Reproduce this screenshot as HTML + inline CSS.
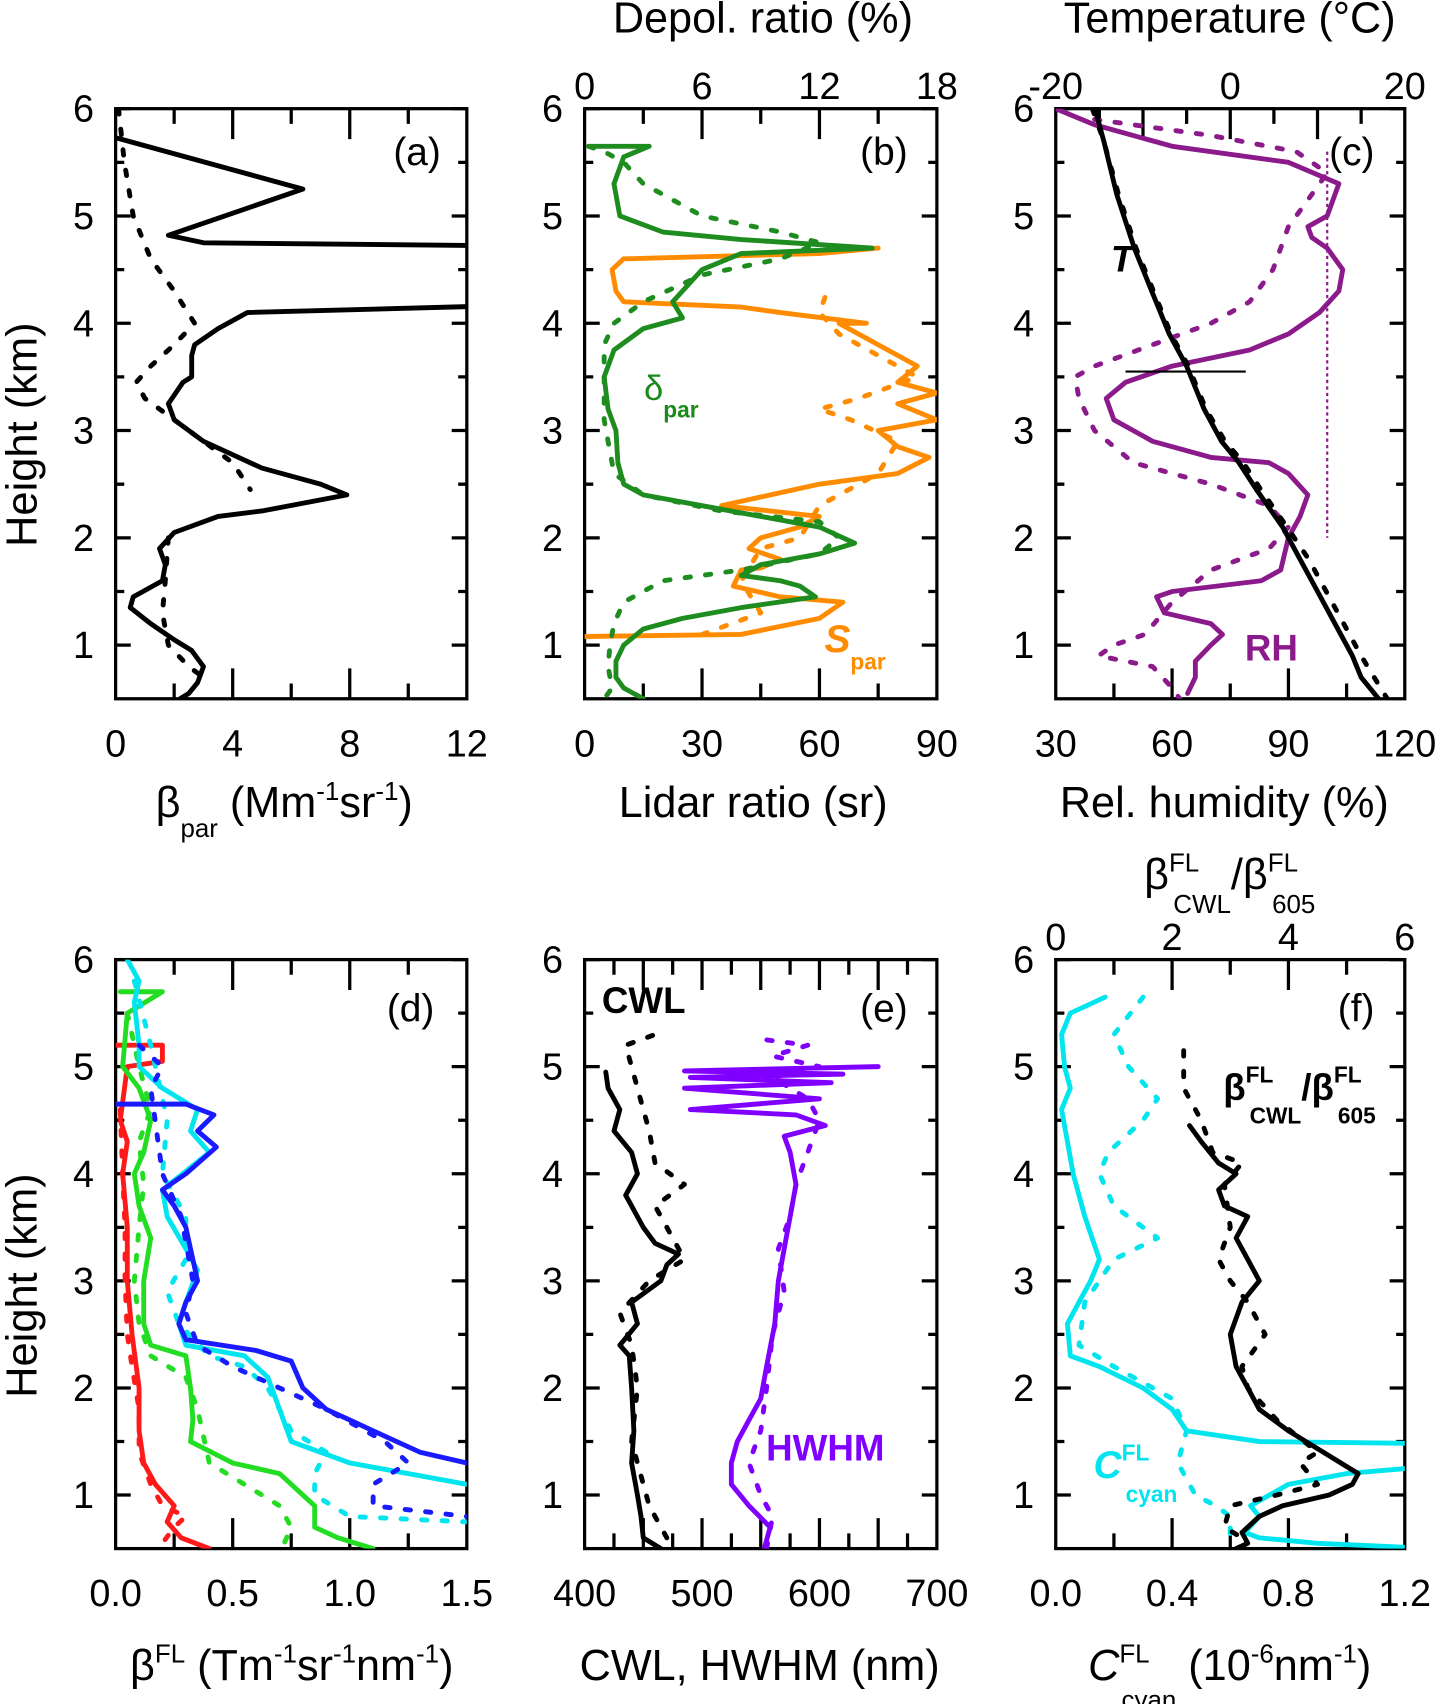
<!DOCTYPE html>
<html><head><meta charset="utf-8"><style>
html,body{margin:0;padding:0;background:#fff;}
svg{display:block;}
text{font-family:"Liberation Sans",Arial,sans-serif;fill:#000;}
</style></head><body>
<svg id="fig" width="1448" height="1704" viewBox="0 0 1340 1568" preserveAspectRatio="none" xmlns="http://www.w3.org/2000/svg">
<defs></defs>
<g id="axes"></g>
<g id="series"></g>
<g id="labels">
<text x="408" y="152" font-size="36" text-anchor="end">(a)</text>
<text x="840" y="152" font-size="36" text-anchor="end">(b)</text>
<text x="1272" y="152" font-size="36" text-anchor="end">(c)</text>
<text x="402" y="940" font-size="36" text-anchor="end">(d)</text>
<text x="840" y="940" font-size="36" text-anchor="end">(e)</text>
<text x="1272" y="940" font-size="36" text-anchor="end">(f)</text>

<text x="263" y="752" font-size="40" text-anchor="middle">β<tspan font-size="24" dy="18">par</tspan><tspan dy="-18"> (Mm</tspan><tspan font-size="24" dy="-16">-1</tspan><tspan dy="16">sr</tspan><tspan font-size="24" dy="-16">-1</tspan><tspan dy="16">)</tspan></text>
<text x="697" y="752" font-size="40" text-anchor="middle">Lidar ratio (sr)</text>
<text x="706" y="30" font-size="40" text-anchor="middle">Depol. ratio (%)</text>
<text x="1133" y="752" font-size="40" text-anchor="middle">Rel. humidity (%)</text>
<text x="1138" y="30" font-size="40" text-anchor="middle">Temperature (°C)</text>
<text x="270" y="1546" font-size="40" text-anchor="middle">β<tspan font-size="24" dy="-16">FL</tspan><tspan dy="16"> (Tm</tspan><tspan font-size="24" dy="-16">-1</tspan><tspan dy="16">sr</tspan><tspan font-size="24" dy="-16">-1</tspan><tspan dy="16">nm</tspan><tspan font-size="24" dy="-16">-1</tspan><tspan dy="16">)</tspan></text>
<text x="703" y="1546" font-size="40" text-anchor="middle">CWL, HWHM (nm)</text>
<text x="1138" y="1546" font-size="40" text-anchor="middle"><tspan font-style="italic">C</tspan><tspan font-size="24" dy="-16">FL</tspan><tspan font-size="24" dx="-26" dy="42">cyan</tspan><tspan dy="-26"> (10</tspan><tspan font-size="24" dy="-16">-6</tspan><tspan dy="16">nm</tspan><tspan font-size="24" dy="-16">-1</tspan><tspan dy="16">)</tspan></text>
<text x="1138" y="818" font-size="40" text-anchor="middle">β<tspan font-size="24" dy="-16">FL</tspan><tspan font-size="24" dx="-24" dy="38">CWL</tspan><tspan dy="-22">/β</tspan><tspan font-size="24" dy="-16">FL</tspan><tspan font-size="24" dx="-24" dy="38">605</tspan></text>
<text transform="translate(34,400) rotate(-90)" font-size="40" text-anchor="middle">Height (km)</text>
<text transform="translate(34,1183) rotate(-90)" font-size="40" text-anchor="middle">Height (km)</text>

<text x="596" y="368" font-size="32" style="fill:#1a8a1a">δ<tspan font-size="21" font-weight="bold" dy="16">par</tspan></text>
<text x="763" y="600" font-size="36" font-weight="bold" font-style="italic" style="fill:#ff8c00">S<tspan font-size="21" font-style="normal" dy="16">par</tspan></text>
<text x="1028" y="250" font-size="34" font-weight="bold" font-style="italic">T</text>
<text x="1152" y="608" font-size="34" font-weight="bold" style="fill:#8b1a8b">RH</text>
<text x="557" y="932" font-size="34" font-weight="bold">CWL</text>
<text x="709" y="1344" font-size="34" font-weight="bold" style="fill:#8000ff">HWHM</text>
<text x="1132" y="1012" font-size="34" font-weight="bold">β<tspan font-size="21" dy="-16">FL</tspan><tspan font-size="21" dx="-22" dy="38">CWL</tspan><tspan dy="-22">/β</tspan><tspan font-size="21" dy="-16">FL</tspan><tspan font-size="21" dx="-22" dy="38">605</tspan></text>
<text x="1012" y="1360" font-size="36" font-weight="bold" font-style="italic" style="fill:#00e5ee">C<tspan font-size="21" font-style="normal" dy="-16">FL</tspan><tspan font-size="21" font-style="normal" dx="-22" dy="38">cyan</tspan></text>
</g>
</svg>
<script>
// ---------- data (value arrays, heights in km) ----------
const aSolidX=[0,6.4,1.8,3,14,14,4.5,3.5,2.7,2.6,2.6,2.3,1.8,2,3,5,7,7.9,5,3.5,2,1.5,1.7,1.6,0.6,0.5,1.2,2,2.6,3,2.8,2.5,2.2];
const aSolidH=[5.73,5.25,4.82,4.75,4.72,4.17,4.1,3.95,3.8,3.7,3.5,3.45,3.25,3.1,2.9,2.65,2.5,2.4,2.25,2.2,2.05,1.9,1.75,1.6,1.45,1.35,1.2,1.05,0.95,0.8,0.65,0.55,0.5];
const aDashX=[0.1,0.3,0.6,1.2,2,2.7,2,1.2,0.7,1,2,3,4,4.6];
const aDashH=[6,5.5,5,4.6,4.3,4.0,3.8,3.6,3.45,3.3,3.1,2.9,2.7,2.45];
const aDash2X=[1.8,1.7,1.6,1.8,2.5,3];
const aDash2H=[2.0,1.6,1.3,1.0,0.8,0.7];

const bDeltaX=[0.2,3.3,2,1.5,1.8,4,8,14.7,8,6,5,4.5,5,3,1.5,1,1.2,1.6,1.7,2,3,6,9,12,13.8,12,9,8,10,11,11.8,8,5,3,2,1.6,1.6,2,3];
const bDeltaH=[5.65,5.65,5.55,5.3,5.0,4.85,4.78,4.7,4.65,4.5,4.3,4.2,4.05,3.95,3.75,3.5,3.2,3,2.7,2.5,2.4,2.3,2.2,2.1,1.95,1.85,1.75,1.65,1.6,1.55,1.45,1.35,1.25,1.15,1.0,0.85,0.7,0.6,0.5];
const bDeltaDX=[0.2,1,2,3,6,10,12,10,6,3,1.5,1,1,1,1.2,1.5,3,7,12,13,12,8,4,2,1.5,1.3,1.2,1.4,1];
const bDeltaDH=[5.65,5.6,5.5,5.3,5.0,4.85,4.75,4.6,4.45,4.2,4.0,3.8,3.5,3.1,2.9,2.6,2.4,2.25,2.15,2.0,1.85,1.7,1.6,1.4,1.2,1.0,0.8,0.6,0.5];
const bSX=[0,40,60,66,50,38,40,45,50,42,45,55,60,35,60,80,88,80,75,90,80,90,80,85,75,65,72,50,40,10,8,7,10,60,75];
const bSH=[1.08,1.1,1.25,1.4,1.45,1.55,1.7,1.72,1.8,1.9,2.0,2.1,2.2,2.3,2.5,2.6,2.75,2.85,3.0,3.1,3.25,3.35,3.45,3.6,3.8,4.0,4.0,4.1,4.15,4.2,4.3,4.5,4.6,4.65,4.7];
const bSDX=[30,45,40,45,55,60,75,80,68,60,70,85,75,65,60,62,63];
const bSDH=[1.1,1.3,1.6,1.9,2.0,2.3,2.6,2.9,3.1,3.2,3.3,3.5,3.7,3.9,4.1,4.3,4.35];

const cTX=[-15.5,-14.5,-13,-11,-9,-7,-5,-3,-1,1,3,6,8,10,12,14,15,17];
const cTH=[6,5.7,5.2,4.7,4.3,3.9,3.6,3.2,2.9,2.7,2.45,2.1,1.8,1.5,1.2,0.9,0.7,0.5];
const cTDX=[-15.8,-14.5,-12.8,-10.8,-8.8,-6.8,-4.8,-2.8,-0.6,1.5,3.5,6.5,9,11,13,15,16.5,18];
const cTDH=[6,5.7,5.2,4.7,4.3,3.9,3.6,3.2,2.9,2.7,2.45,2.1,1.8,1.5,1.2,0.9,0.7,0.5];
const cRHX=[30,40,60,90,103,100,95,96,100,104,103,98,90,80,60,48,43,45,55,70,85,90,95,93,90,88,83,60,56,58,70,73,70,66,66,64];
const cRHH=[6,5.85,5.65,5.5,5.3,5.0,4.9,4.8,4.7,4.5,4.3,4.1,3.9,3.75,3.6,3.45,3.3,3.1,2.9,2.75,2.7,2.6,2.4,2.2,2.0,1.7,1.6,1.5,1.45,1.3,1.2,1.1,1.0,0.85,0.7,0.55];
const cRHDX=[40,70,92,100,96,90,88,86,80,70,55,40,35,36,40,50,70,85,90,85,70,60,53,45,41,55,60,62];
const cRHDH=[5.9,5.75,5.6,5.4,5.2,4.9,4.7,4.5,4.2,4.0,3.8,3.6,3.5,3.3,3.0,2.7,2.5,2.3,2.1,1.9,1.7,1.4,1.1,1.0,0.9,0.8,0.6,0.5];

const dBlueX=[0,0.3,0.42,0.35,0.43,0.3,0.2,0.25,0.3,0.32,0.35,0.3,0.27,0.3,0.6,0.75,0.8,0.9,1.0,1.1,1.3,1.5];
const dBlueH=[4.65,4.65,4.55,4.4,4.25,4.0,3.85,3.7,3.5,3.3,3.0,2.8,2.6,2.45,2.35,2.25,2.0,1.8,1.7,1.6,1.4,1.3];
const dBlueDX=[0.1,0.2,0.15,0.2,0.28,0.33,0.3,0.35,0.5,0.7,0.9,1.15,1.25,1.1,1.1,1.5];
const dBlueDH=[5.2,5.0,4.8,4.0,3.6,3.0,2.7,2.4,2.2,2.0,1.8,1.5,1.3,1.1,0.9,0.8];
const dCyanX=[0.05,0.1,0.08,0.1,0.1,0.2,0.35,0.32,0.4,0.2,0.22,0.3,0.35,0.3,0.27,0.3,0.55,0.65,0.7,0.75,1.0,1.5];
const dCyanH=[6,5.8,5.6,5.2,5.0,4.8,4.6,4.4,4.2,3.85,3.6,3.3,3.1,2.8,2.6,2.4,2.3,2.1,1.8,1.5,1.3,1.1];
const dCyanDX=[0.08,0.15,0.22,0.2,0.3,0.3,0.22,0.27,0.4,0.55,0.65,0.75,0.9,0.85,0.85,1.0,1.5];
const dCyanDH=[5.8,5.2,4.5,4.0,3.6,3.2,2.9,2.6,2.3,2.2,2.0,1.6,1.4,1.2,1.0,0.8,0.75];
const dGreenX=[0.02,0.2,0.05,0.03,0.1,0.15,0.12,0.08,0.1,0.15,0.12,0.12,0.15,0.3,0.32,0.33,0.32,0.5,0.7,0.8,0.85,0.85,0.95,1.1];
const dGreenH=[5.7,5.7,5.5,5.0,4.8,4.5,4.2,4.0,3.7,3.4,3.0,2.6,2.4,2.3,2.0,1.7,1.5,1.3,1.2,1.0,0.9,0.7,0.6,0.5];
const dGreenDX=[0.05,0.1,0.15,0.1,0.12,0.1,0.08,0.1,0.15,0.3,0.35,0.4,0.55,0.7,0.75,0.72];
const dGreenDH=[5.5,5.0,4.6,4.3,3.9,3.5,3.0,2.6,2.3,2.1,1.8,1.3,1.1,0.9,0.7,0.55];
const dRedX=[0,0.2,0.2,0.05,0.02,0.05,0.03,0.05,0.05,0.07,0.1,0.1,0.12,0.17,0.25,0.22,0.28,0.4];
const dRedH=[5.2,5.2,5.05,5.0,4.5,4.3,4.0,3.5,3.0,2.5,2.0,1.6,1.3,1.1,0.9,0.75,0.6,0.5];
const dRedDX=[0.02,0.03,0.04,0.04,0.05,0.07,0.1,0.1,0.15,0.2,0.3,0.25,0.2];
const dRedDH=[4.6,4.0,3.5,3.0,2.5,2.2,1.8,1.4,1.1,0.9,0.8,0.7,0.55];

const eCwlX=[465,450,448,445,440,442,440,438,430,445,440,465,470,480,460,450,440,435,445,440,425,430,420,418];
const eCwlH=[0.5,0.6,0.8,1.0,1.3,1.6,2.0,2.3,2.4,2.6,2.8,3.0,3.15,3.25,3.35,3.5,3.7,3.8,4.0,4.2,4.4,4.6,4.8,4.95];
const eCwlDX=[470,455,440,445,440,430,455,485,470,460,485,460,455,450,445,440,435,460,465];
const eCwlDH=[0.6,0.9,1.5,2.0,2.4,2.7,3.0,3.2,3.5,3.7,3.9,4.1,4.4,4.6,4.8,5.0,5.2,5.3,5.4];
const eHwX=[553,558,540,525,525,530,540,550,555,562,565,570,575,580,575,570,605,580,490,600,485,610,490,620,485,650];
const eHwH=[0.5,0.7,0.9,1.1,1.3,1.5,1.7,1.9,2.2,2.6,3.0,3.3,3.6,3.9,4.2,4.35,4.45,4.55,4.6,4.7,4.8,4.85,4.9,4.93,4.96,5.0];
const eHwDX=[555,560,550,540,550,555,560,570,565,575,580,590,600,590,560,600,560,590,555];
const eHwDH=[0.5,0.8,1.0,1.3,1.6,2.0,2.5,2.9,3.3,3.6,3.9,4.2,4.5,4.7,4.9,5.0,5.1,5.2,5.25];

const fCyanX=[0.17,0.05,0.02,0.03,0.05,0.02,0.04,0.06,0.1,0.15,0.12,0.08,0.04,0.05,0.15,0.3,0.4,0.45,0.7,1.3];
const fCyanH=[5.65,5.5,5.3,5.0,4.8,4.6,4.3,4.0,3.6,3.2,3.0,2.8,2.6,2.3,2.2,2.0,1.8,1.6,1.5,1.48];
const fCyan2X=[1.3,1.0,0.8,0.67,0.7,0.65,0.7,0.9,1.3];
const fCyan2H=[1.27,1.2,1.1,0.9,0.8,0.65,0.6,0.55,0.5];
const fCyanDX=[0.3,0.2,0.25,0.35,0.3,0.18,0.15,0.2,0.35,0.2,0.1,0.08,0.2,0.4,0.45,0.42,0.48,0.55,0.6,0.6];
const fCyanDH=[5.65,5.3,5.0,4.7,4.5,4.2,4.0,3.7,3.4,3.2,2.8,2.4,2.2,1.9,1.6,1.3,1.0,0.9,0.8,0.6];
const fRatioX=[2.3,2.5,2.8,3.1,2.8,2.9,3.3,3.1,3.3,3.5,3.2,3.0,3.1,3.3,3.5,4.0,4.6,5.2,5.1,4.7,3.9,3.5,3.2,3.3,3.1];
const fRatioH=[4.45,4.3,4.1,4.0,3.85,3.7,3.6,3.4,3.2,3.0,2.8,2.5,2.2,2.0,1.8,1.6,1.4,1.2,1.1,1.0,0.9,0.8,0.65,0.55,0.5];
const fRatioDX=[2.2,2.2,2.5,2.7,3.2,2.9,3.0,2.8,3.0,3.3,3.5,3.6,3.2,3.3,3.8,4.5,4.2,4.5,3.8,3.0,2.9,3.2];
const fRatioDH=[5.15,4.8,4.5,4.2,4.1,3.9,3.5,3.2,3.0,2.8,2.6,2.5,2.2,2.0,1.7,1.4,1.3,1.1,1.0,0.9,0.7,0.6];

const bottomTickLabels={a:["0","4","8","12"],b:["0","30","60","90"],c:["30","60","90","120"],d:["0.0","0.5","1.0","1.5"],e:["400","500","600","700"],f:["0.0","0.4","0.8","1.2"]};
const topTickLabels={b:["0","6","12","18"],c:["-20","0","20"],f:["0","2","4","6"]};
const heightTicks=["1","2","3","4","5","6"];

// ---------- layout ----------
const NS="http://www.w3.org/2000/svg";
const P={
 a:{x0:107,x1:432,y0:100,y1:643,min:0,max:12,minor:2},
 b:{x0:541,x1:867,y0:100,y1:643,min:0,max:90,minor:15,tmin:0,tmax:18,tminor:3},
 c:{x0:977,x1:1300,y0:100,y1:643,min:30,max:120,minor:15,tmin:-20,tmax:20,tminor:5},
 d:{x0:107,x1:432,y0:883,y1:1425,min:0,max:1.5,minor:0.25},
 e:{x0:541,x1:867,y0:883,y1:1425,min:400,max:700,minor:25},
 f:{x0:977,x1:1300,y0:883,y1:1425,min:0,max:1.2,minor:0.2,tmin:0,tmax:6,tminor:1}
};
function xs(p,v,top){const lo=top?p.tmin:p.min,hi=top?p.tmax:p.max;return p.x0+(v-lo)/(hi-lo)*(p.x1-p.x0);}
function ys(p,h){return p.y1-(h-0.5)/5.5*(p.y1-p.y0);}
const axesG=document.getElementById('axes');
const serG=document.getElementById('series');
function mk(tag,attrs,parent){const e=document.createElementNS(NS,tag);for(const k in attrs)e.setAttribute(k,attrs[k]);parent.appendChild(e);return e;}

for(const key in P){
 const p=P[key];
 const g=mk('g',{},axesG);
 
 
 const cp=mk('clipPath',{id:'clip-'+key},document.querySelector('defs'));
 mk('rect',{x:p.x0,y:p.y0,width:p.x1-p.x0,height:p.y1-p.y0},cp);
 let d="";
 for(let h=1;h<=6;h+=0.5){const y=ys(p,h);const L=(h%1===0)?14:8;
  d+=`M${p.x0},${y}h${L}M${p.x1},${y}h${-L}`;}
 const nb=Math.round((p.max-p.min)/p.minor);
 for(let i=1;i<nb;i++){const v=p.min+i*p.minor;const x=xs(p,v,false);const L=(i%2===0)?28:14;d+=`M${x},${p.y1}v${-L}`;}
 if(p.tmin!==undefined){const nt=Math.round((p.tmax-p.tmin)/p.tminor);
  for(let i=1;i<nt;i++){const x=xs(p,p.tmin+i*p.tminor,true);const L=(i%2===0)?28:14;d+=`M${x},${p.y0}v${L}`;}}
 else{for(let i=1;i<nb;i++){const x=xs(p,p.min+i*p.minor,false);const L=(i%2===0)?28:14;d+=`M${x},${p.y0}v${L}`;}}
 mk('path',{d:d,stroke:'#000','stroke-width':3,fill:'none'},g);
 const fr=mk('rect',{x:p.x0,y:p.y0,width:p.x1-p.x0,height:p.y1-p.y0,fill:'none',stroke:'#000','stroke-width':3},g);
 
 
 const bl=bottomTickLabels[key];
 bl.forEach((t,i)=>{const x=p.x0+i/(bl.length-1)*(p.x1-p.x0);
  const tx=mk('text',{x:x,y:p.y1+53,'font-size':35,'text-anchor':'middle'},g);tx.textContent=t;
  
  });
 const tl=topTickLabels[key];
 if(tl){tl.forEach((t,i)=>{const x=p.x0+i/(tl.length-1)*(p.x1-p.x0);
  const tx=mk('text',{x:x,y:p.y0-9,'font-size':35,'text-anchor':'middle'},g);tx.textContent=t;
  
  });}
 heightTicks.forEach(t=>{const y=ys(p,+t);
  const tx=mk('text',{x:p.x0-20,y:y+12,'font-size':35,'text-anchor':'end'},g);tx.textContent=t;
  
  });
}

function series(key,X,H,color,dashed,top,name){
 const p=P[key];
 const pts=X.map((v,i)=>xs(p,v,top).toFixed(1)+','+ys(p,H[i]).toFixed(1)).join(' ');
 const el=mk('polyline',{points:pts,fill:'none',stroke:color,'stroke-width':4.5,'stroke-linejoin':'round','stroke-linecap':'round','clip-path':'url(#clip-'+key+')'},serG);
 if(dashed)el.setAttribute('stroke-dasharray','5 14');
 
 
}
const OR='#ff8c00',GR='#1e8c1e',PU='#8b1a8b',BL='#1a1aff',CY='#00e5ee',LG='#22dd22',RD='#ff1a1a',VI='#8000ff';
series('a',aSolidX,aSolidH,'#000',false,false,'beta-par-solid');
series('a',aDashX,aDashH,'#000',true,false,'beta-par-dashed');
series('a',aDash2X,aDash2H,'#000',true,false,'beta-par-dashed-lower');
series('b',bSX,bSH,OR,false,false,'lidar-ratio-solid');
series('b',bSDX,bSDH,OR,true,false,'lidar-ratio-dashed');
series('b',bDeltaX,bDeltaH,GR,false,true,'depol-ratio-solid');
series('b',bDeltaDX,bDeltaDH,GR,true,true,'depol-ratio-dashed');
series('c',cRHX,cRHH,PU,false,false,'rh-solid');
series('c',cRHDX,cRHDH,PU,true,false,'rh-dashed');
series('c',cTX,cTH,'#000',false,true,'temperature-solid');
series('c',cTDX,cTDH,'#000',true,true,'temperature-dashed');
series('d',dRedX,dRedH,RD,false,false,'beta-fl-red-solid');
series('d',dRedDX,dRedDH,RD,true,false,'beta-fl-red-dashed');
series('d',dGreenX,dGreenH,LG,false,false,'beta-fl-green-solid');
series('d',dGreenDX,dGreenDH,LG,true,false,'beta-fl-green-dashed');
series('d',dCyanX,dCyanH,CY,false,false,'beta-fl-cyan-solid');
series('d',dCyanDX,dCyanDH,CY,true,false,'beta-fl-cyan-dashed');
series('d',dBlueX,dBlueH,BL,false,false,'beta-fl-blue-solid');
series('d',dBlueDX,dBlueDH,BL,true,false,'beta-fl-blue-dashed');
series('e',eCwlX,eCwlH,'#000',false,false,'cwl-solid');
series('e',eCwlDX,eCwlDH,'#000',true,false,'cwl-dashed');
series('e',eHwX,eHwH,VI,false,false,'hwhm-solid');
series('e',eHwDX,eHwDH,VI,true,false,'hwhm-dashed');
series('f',fCyanX,fCyanH,CY,false,false,'c-cyan-solid');
series('f',fCyan2X,fCyan2H,CY,false,false,'c-cyan-solid-lower');
series('f',fCyanDX,fCyanDH,CY,true,false,'c-cyan-dashed');
series('f',fRatioX,fRatioH,'#000',false,true,'ratio-solid');
series('f',fRatioDX,fRatioDH,'#000',true,true,'ratio-dashed');
const rhRef=mk('line',{x1:xs(P.c,100),x2:xs(P.c,100),y1:ys(P.c,5.6),y2:ys(P.c,2.0),stroke:PU,'stroke-width':2,'stroke-dasharray':'3 3'},serG);


const mark=mk('line',{x1:xs(P.c,48),x2:xs(P.c,79),y1:ys(P.c,3.55),y2:ys(P.c,3.55),stroke:'#000','stroke-width':2},serG);


</script>
</body></html>
